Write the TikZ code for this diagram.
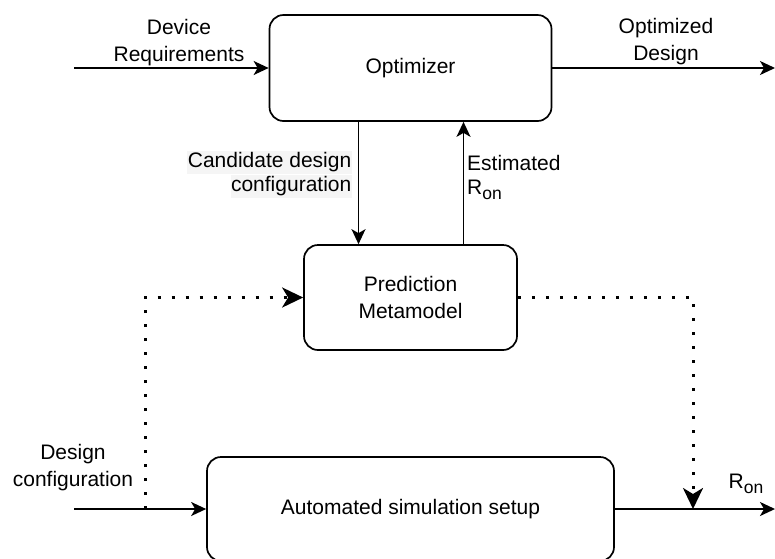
\documentclass[tikz,border=0pt]{standalone}
\usepackage{fontspec}
\setmainfont{Liberation Sans}
\usetikzlibrary{arrows.meta}
\newcommand\Ron{R\raisebox{-5pt}{\fontsize{17.5}{17.5}\selectfont on}}
\begin{document}
\begin{tikzpicture}[x=1pt,y=-1pt,
  font=\fontsize{21}{27}\selectfont,
  box/.style={draw, line width=1.7pt, rounded corners=14pt, align=center, inner sep=0pt},
  arr/.style={line width=1.7pt, -{Stealth[length=15pt,width=14pt,inset=4pt]}},
  dotline/.style={line width=3pt, dash pattern=on 3pt off 11pt},
  dotarr/.style={dotline, -{Stealth[length=21pt,width=20pt,inset=6pt]}},
  lbl/.style={inner sep=0pt, align=center},
  grbg/.style={fill=black!4, inner xsep=0.5pt, inner ysep=0pt, text height=17pt, text depth=6pt}
]
\useasboundingbox (0,0) rectangle (775,558);
% boxes
\node[box, minimum width=282pt, minimum height=106pt] (opt) at (410.5,68) {Optimizer};
\node[box, minimum width=213pt, minimum height=105pt] (meta) at (410.5,297.5) {Prediction\\Metamodel};
\node[box, minimum width=407pt, minimum height=104pt] (sim) at (410.5,509) {Automated simulation setup};
% free ends
\coordinate (in0) at (74,68);
\coordinate (out0) at (775,68);
\coordinate (in1) at (74,509);
\coordinate (out1) at (775,509);
\coordinate (dl) at (145,509);
\coordinate (dr) at (693,509);
% solid connectors
\draw[arr] (in0) -- (opt.west);
\draw[arr] (opt.east) -- (out0);
\draw[arr] ([xshift=-52pt]opt.south) -- ([xshift=-52pt]meta.north);
\draw[arr] ([xshift=53pt]meta.north) -- ([xshift=53pt]opt.south);
\draw[arr] (in1) -- (sim.west);
\draw[arr] (sim.east) -- (out1);
% dotted connectors
\draw[dotarr] (dl) -- (dl |- meta.west) -- (meta.west);
\draw[dotarr] (meta.east) -| (dr);
% labels
\node[lbl] (l1) at (179,43) {Device\\Requirements};
\node[lbl] (l2) at (666,42) {Optimized\\Design};
\node[grbg, anchor=east] (l3a) at (352,162) {Candidate design};
\node[grbg, anchor=east] (l3b) at (352,186) {configuration};
\node[lbl, anchor=base west] (l4a) at (467,170.5) {Estimated};
\node[lbl, anchor=base west] (l4b) at (467,194.5) {\Ron};
\node[lbl] (l5) at (73,468) {Design\\configuration};
\node[lbl, anchor=base] (l6) at (746,488) {\Ron};
\end{tikzpicture}
\end{document}
